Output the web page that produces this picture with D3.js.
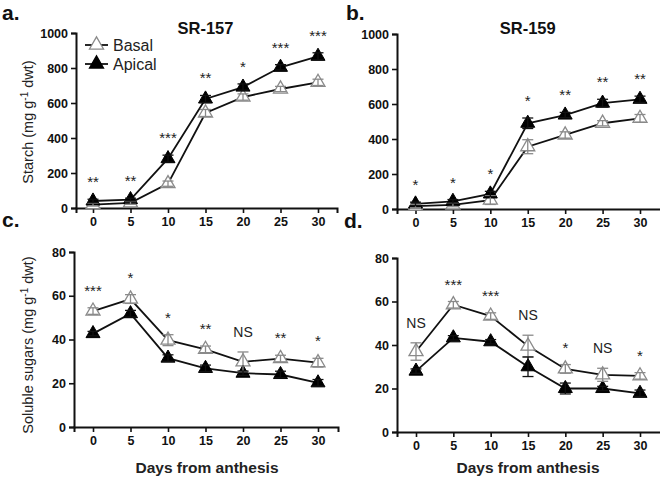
<!DOCTYPE html>
<html>
<head>
<meta charset="utf-8">
<script src="https://cdn.jsdelivr.net/npm/d3@7"></script>
<style>
  body { margin: 0; background: #fff; }
  svg text { font-family: "Liberation Sans", Arial, sans-serif; }
</style>
</head>
<body>
<div id="chart"></div>
<script>
// days after anthesis (shared x values)
var days = [0, 5, 10, 15, 20, 25, 30];

// a. SR-157 starch
var starch157Basal = [19, 29, 139, 543, 634, 680, 718];
var starch157BasalErr = [8, 8, 15, 20, 18, 15, 18];
var starch157Apical = [40, 48, 282, 623, 691, 804, 867];
var starch157ApicalErr = [10, 8, 20, 20, 18, 15, 20];
var starch157Sig = ["**", "**", "***", "**", "*", "***", "***"];

// b. SR-159 starch
var starch159Basal = [17, 23, 51, 356, 423, 490, 518];
var starch159BasalErr = [10, 10, 25, 40, 18, 15, 22];
var starch159Apical = [29, 44, 86, 490, 537, 605, 627];
var starch159ApicalErr = [10, 10, 15, 30, 15, 22, 18];
var starch159Sig = ["*", "*", "*", "*", "**", "**", "**"];

// c. SR-157 soluble sugars
var sugar157Basal = [53, 58.5, 39.7, 35.5, 29.8, 31.3, 29.4];
var sugar157BasalErr = [1.5, 2, 2.5, 1.5, 4.5, 1.5, 2];
var sugar157Apical = [42.7, 51.8, 31.5, 26.8, 24.6, 24, 20.2];
var sugar157ApicalErr = [1, 1.5, 1.5, 1.5, 1, 1.5, 1.5];
var sugar157Sig = ["***", "*", "*", "**", "NS", "**", "*"];

// d. SR-159 soluble sugars
var sugar159Basal = [37, 58.5, 53.3, 39.5, 29, 26.3, 25.8];
var sugar159BasalErr = [4, 1.5, 1.5, 5, 2, 3, 1.5];
var sugar159Apical = [28, 43.3, 41.5, 30, 20, 20, 17.8];
var sugar159ApicalErr = [1, 1, 1, 4.5, 2.5, 1, 1.5];
var sugar159Sig = ["NS", "***", "***", "NS", "*", "NS", "*"];

// tick labels
var starchTicks = [0, 200, 400, 600, 800, 1000];
var sugarTicks = [0, 20, 40, 60, 80];

var svg = d3.select("#chart").append("svg")
  .attr("width", 660)
  .attr("height", 480);

var triangle = d3.symbol().type(d3.symbolTriangle).size(85);

function drawPanel(p) {
  // x scale: data 0..30 sits inside a longer axis line
  var xs = d3.scaleLinear().domain([0, 30]).range([p.x0, p.x30]);
  var x = d3.scaleLinear()
    .domain([xs.invert(p.left), xs.invert(p.right)])
    .range([p.left, p.right]);
  var y = d3.scaleLinear().domain([0, p.yMax]).range([p.y0, p.yTop]);

  var g = svg.append("g");

  // Add X axis
  var xAxis = g.append("g")
    .attr("transform", "translate(0," + p.y0 + ")")
    .call(d3.axisBottom(x).tickValues(days).tickFormat(d3.format("d"))
      .tickSizeOuter(0).tickSize(5).tickPadding(4));
  // Add Y axis
  var yAxis = g.append("g")
    .attr("transform", "translate(" + p.left + ",0)")
    .call(d3.axisLeft(y).tickValues(p.ticks).tickFormat(d3.format("d"))
      .tickSizeOuter(0).tickSize(5).tickPadding(3));

  [xAxis, yAxis].forEach(function(a) {
    a.select(".domain").attr("stroke", "#111").attr("stroke-width", 2);
    a.selectAll(".tick line").attr("stroke", "#111").attr("stroke-width", 1.6);
    a.selectAll(".tick text")
      .attr("fill", "#111")
      .style("font-size", "12.5px")
      .style("font-weight", "bold")
      .style("font-family", "'Liberation Sans', Arial, sans-serif");
  });

  var series = [
    {vals: p.basal, err: p.basalErr, filled: false},
    {vals: p.apical, err: p.apicalErr, filled: true}
  ];

  var line = d3.line()
    .x(function(d) { return x(d[0]); })
    .y(function(d) { return y(d[1]); });

  // connecting lines
  series.forEach(function(s) {
    g.append("path")
      .datum(days.map(function(d, i) { return [d, s.vals[i]]; }))
      .attr("fill", "none")
      .attr("stroke", "#111")
      .attr("stroke-width", 1.8)
      .attr("d", line);
  });

  // markers
  series.forEach(function(s) {
    g.append("g").selectAll("path")
      .data(days.map(function(d, i) { return [d, s.vals[i]]; }))
      .enter().append("path")
      .attr("d", triangle)
      .attr("transform", function(d) { return "translate(" + x(d[0]) + "," + y(d[1]) + ")"; })
      .attr("fill", s.filled ? "#000" : "#fff")
      .attr("stroke", s.filled ? "#000" : "#8a8a8a")
      .attr("stroke-width", s.filled ? 1 : 1.3);
  });

  // error bars
  series.forEach(function(s) {
    var col = s.filled ? "#111" : "#8a8a8a";
    var eb = g.append("g").selectAll("g")
      .data(days.map(function(d, i) { return {d: d, v: s.vals[i], e: s.err[i]}; }))
      .enter().append("g")
      .attr("stroke", col)
      .attr("stroke-width", 1.3);
    eb.append("line")
      .attr("x1", function(d) { return x(d.d); })
      .attr("x2", function(d) { return x(d.d); })
      .attr("y1", function(d) { return y(d.v - d.e); })
      .attr("y2", function(d) { return y(d.v + d.e); });
    [1, -1].forEach(function(sign) {
      eb.append("line")
        .attr("x1", function(d) { return x(d.d) - 5.5; })
        .attr("x2", function(d) { return x(d.d) + 5.5; })
        .attr("y1", function(d) { return y(d.v + sign * d.e); })
        .attr("y2", function(d) { return y(d.v + sign * d.e); });
    });
  });

  // significance labels
  g.append("g").selectAll("text")
    .data(days.map(function(d, i) {
      var top = Math.max(p.basal[i] + p.basalErr[i], p.apical[i] + p.apicalErr[i]);
      return {d: d, top: top, s: p.sig[i]};
    }))
    .enter().append("text")
    .attr("x", function(d) { return x(d.d); })
    .attr("y", function(d) { return y(d.top) - (d.s == "NS" ? 15 : 12); })
    .attr("text-anchor", "middle")
    .style("font-size", function(d) { return d.s == "NS" ? "14px" : "15px"; })
    .attr("fill", "#222")
    .text(function(d) { return d.s; });

  if (p.title) {
    g.append("text")
      .attr("x", (p.x0 + p.x30) / 2)
      .attr("y", p.titleY)
      .attr("text-anchor", "middle")
      .style("font-size", "16.5px")
      .style("font-weight", "bold")
      .attr("fill", "#111")
      .text(p.title);
  }

  // panel letter
  g.append("text")
    .attr("x", p.letterX)
    .attr("y", p.letterY)
    .style("font-size", "21px")
    .style("font-weight", "bold")
    .attr("fill", "#111")
    .text(p.letter);

  return {x: x, y: y, g: g};
}

drawPanel({left: 76, right: 337, x0: 93, x30: 318, y0: 208, yTop: 33, yMax: 1000, ticks: starchTicks,
  basal: starch157Basal, basalErr: starch157BasalErr, apical: starch157Apical, apicalErr: starch157ApicalErr,
  sig: starch157Sig, title: "SR-157", titleY: 34, letter: "a.", letterX: 2, letterY: 20});
drawPanel({left: 397, right: 662, x0: 415.5, x30: 640, y0: 209, yTop: 34, yMax: 1000, ticks: starchTicks,
  basal: starch159Basal, basalErr: starch159BasalErr, apical: starch159Apical, apicalErr: starch159ApicalErr,
  sig: starch159Sig, title: "SR-159", titleY: 34, letter: "b.", letterX: 346, letterY: 20});
drawPanel({left: 74, right: 338, x0: 93, x30: 318, y0: 427, yTop: 252, yMax: 80, ticks: sugarTicks,
  basal: sugar157Basal, basalErr: sugar157BasalErr, apical: sugar157Apical, apicalErr: sugar157ApicalErr,
  sig: sugar157Sig, letter: "c.", letterX: 2, letterY: 227});
drawPanel({left: 397, right: 662, x0: 416, x30: 640, y0: 432, yTop: 258, yMax: 80, ticks: sugarTicks,
  basal: sugar159Basal, basalErr: sugar159BasalErr, apical: sugar159Apical, apicalErr: sugar159ApicalErr,
  sig: sugar159Sig, letter: "d.", letterX: 344, letterY: 228});

// legend
var legend = svg.append("g");
[{name: "Basal", filled: false, y: 45}, {name: "Apical", filled: true, y: 64}].forEach(function(l) {
  legend.append("line")
    .attr("x1", 85).attr("x2", 108)
    .attr("y1", l.y).attr("y2", l.y)
    .attr("stroke", "#111").attr("stroke-width", 1.8);
  legend.append("path")
    .attr("d", triangle)
    .attr("transform", "translate(96.5," + l.y + ")")
    .attr("fill", l.filled ? "#000" : "#fff")
    .attr("stroke", l.filled ? "#000" : "#8a8a8a")
    .attr("stroke-width", 1.3);
  legend.append("text")
    .attr("x", 113).attr("y", l.y + 5.5)
    .style("font-size", "16px")
    .attr("fill", "#222")
    .text(l.name);
});

// Label for y axes
function yLabel(txt, cx, cy) {
  var t = svg.append("text")
    .attr("transform", "translate(" + cx + "," + cy + ") rotate(-90)")
    .attr("text-anchor", "middle")
    .style("font-size", "14.5px")
    .attr("fill", "#222");
  t.append("tspan").text(txt + " (mg g");
  t.append("tspan").attr("dy", -5).style("font-size", "10px").text("-1");
  t.append("tspan").attr("dy", 5).text(" dwt)");
}
yLabel("Starch", 33, 122);
yLabel("Soluble sugars", 33, 345);

// Label for x axes
[207, 528].forEach(function(cx) {
  svg.append("text")
    .attr("x", cx).attr("y", 473)
    .attr("text-anchor", "middle")
    .style("font-size", "15.5px")
    .style("font-weight", "bold")
    .attr("fill", "#222")
    .text("Days from anthesis");
});
</script>
</body>
</html>
